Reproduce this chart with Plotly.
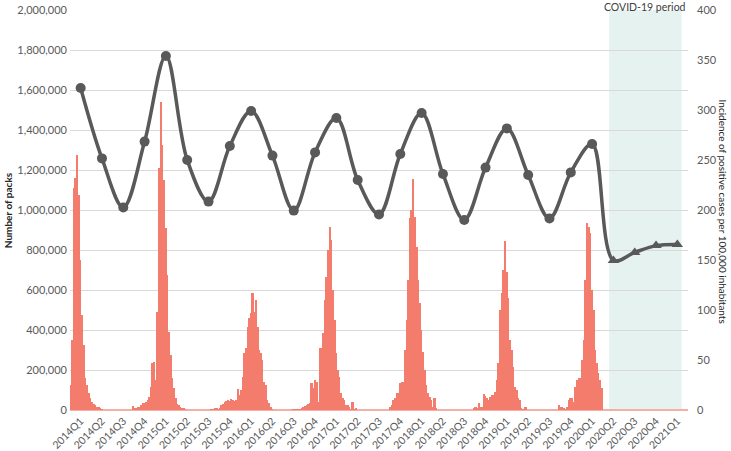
import plotly.graph_objects as go

# quarterly number of packs (left axis)
quarters = ['2014Q1', '2014Q2', '2014Q3', '2014Q4', '2015Q1', '2015Q2', '2015Q3', '2015Q4',
            '2016Q1', '2016Q2', '2016Q3', '2016Q4', '2017Q1', '2017Q2', '2017Q3', '2017Q4',
            '2018Q1', '2018Q2', '2018Q3', '2018Q4', '2019Q1', '2019Q2', '2019Q3', '2019Q4',
            '2020Q1', '2020Q2', '2020Q3', '2020Q4', '2021Q1']
packs = [1610000, 1258000, 1013000, 1342000, 1770000, 1250000, 1042000, 1320000,
         1495000, 1272000, 997000, 1288000, 1460000, 1150000, 978000, 1280000,
         1485000, 1180000, 950000, 1212000, 1408000, 1175000, 958000, 1188000,
         1330000, 748000, 788000, 822000, 828000]
n_pre_covid = 25

# weekly incidence of positive cases per 100,000 inhabitants (right axis)
inc_2014 = [25, 70, 222, 232, 255, 215, 150, 95, 65, 32, 25, 17, 12, 8, 6, 5, 3, 3, 2, 1,
            0, 0, 0, 0, 0, 0, 0, 0, 0, 0, 0, 0, 0, 0, 0, 0, 0, 0,
            4, 2, 2, 3, 3, 5, 7, 7, 8, 10, 13, 23, 47, 48]
inc_2015 = [30, 98, 242, 308, 265, 230, 182, 135, 78, 55, 32, 22, 12, 6, 5, 3, 2, 2, 1,
            0, 0, 0, 0, 0, 0, 0, 0, 0, 0, 0, 0, 0, 0, 0,
            1, 1, 2, 2, 1, 2, 5, 6, 8, 9, 10, 9, 11, 10, 9, 10, 21, 15]
inc_2016 = [20, 33, 57, 62, 83, 92, 97, 117, 98, 110, 83, 60, 57, 50, 28, 25, 10, 7, 3, 1,
            0, 0, 0, 0, 0, 0, 0, 0, 0, 0, 0, 0, 1, 1, 1, 1,
            1, 2, 3, 4, 5, 6, 7, 27, 22, 30, 28, 8, 62, 62, 77, 110]
inc_2017 = [133, 160, 183, 170, 120, 90, 57, 40, 33, 17, 12, 10, 5, 5, 3,
            1, 8, 1, 2,
            0, 0, 0, 0, 0, 0, 0, 0, 0, 0, 0, 0, 0, 0, 0, 0, 0, 0, 0, 0,
            3, 5, 10, 12, 17, 17, 27, 28, 28, 60, 90, 130, 192]
inc_2018 = [200, 231, 193, 163, 130, 107, 80, 58, 40, 25, 17, 13, 10, 3, 12, 2,
            0, 0, 0, 0, 0, 0, 0, 0, 0, 0, 0, 0, 0, 0, 0, 0, 0, 0, 0, 0, 0, 0,
            2, 3, 2, 7, 3, 3, 16, 14, 12, 10, 13, 15, 15, 18]
inc_2019 = [30, 47, 100, 117, 140, 169, 138, 112, 70, 60, 43, 23, 20, 12, 10, 2, 1, 3, 3, 0,
            0, 0, 0, 0, 0, 0, 0, 0, 0, 0, 0, 0, 0, 0, 0, 0, 0, 0,
            5, 3, 3, 2, 1, 3, 10, 12, 12, 8, 23, 30, 32, 32]
inc_2020 = [50, 70, 130, 187, 183, 177, 120, 100, 60, 47, 37, 30, 22]

weekly = inc_2014 + inc_2015 + inc_2016 + inc_2017 + inc_2018 + inc_2019 + inc_2020
weeks = list(range(len(weekly)))
n_weeks_axis = 13 * len(quarters)

FONT = 'Lato'
GREY = '#595959'
SALMON = '#f47c6c'

fig = go.Figure()

# weekly incidence bars (right axis, drawn underneath)
fig.add_trace(go.Bar(
    x=weeks, y=weekly, xaxis='x', yaxis='y',
    marker=dict(color=SALMON, line=dict(width=0)), name='incidence'
))

# quarterly packs line (left axis)
symbols = ['circle'] * n_pre_covid + ['triangle-up'] * (len(quarters) - n_pre_covid)
fig.add_trace(go.Scatter(
    x=quarters, y=packs, xaxis='x2', yaxis='y2', name='packs',
    mode='lines+markers',
    line=dict(color=GREY, width=3.5, shape='spline', smoothing=1),
    marker=dict(color=GREY, size=10, symbol=symbols)
))

# COVID-19 shaded period
fig.add_shape(type='rect', xref='x2', yref='paper', x0=24.8, x1=28.2, y0=0, y1=1,
              fillcolor='#e5f2ef', line=dict(width=0), layer='between')
fig.add_annotation(text='COVID-19 period', xref='x2', yref='paper', x=26.5, y=1,
                   xanchor='center', yanchor='middle', yshift=3, showarrow=False,
                   font=dict(family=FONT, size=10.5, color='#404040'))

# axis titles
fig.add_annotation(text='<b>Number of packs</b>', xref='paper', yref='paper', x=-0.1, y=0.5,
                   xanchor='center', yanchor='middle', textangle=-90, showarrow=False,
                   font=dict(family=FONT, size=10, color='#262626'))
fig.add_annotation(text='Incidence of positive cases per 100,000 inhabitants',
                   xref='paper', yref='paper', x=1.056, y=0.497, xanchor='center',
                   yanchor='middle', textangle=90, showarrow=False,
                   font=dict(family=FONT, size=10, color='#262626'))

fig.update_layout(
    width=731, height=451,
    margin=dict(l=70, r=43, t=10, b=41),
    plot_bgcolor='white', paper_bgcolor='white',
    showlegend=False, bargap=0,
    font=dict(family=FONT, size=11, color=GREY),
    xaxis=dict(range=[-0.5, n_weeks_axis - 0.5], visible=False),
    xaxis2=dict(overlaying='x', side='bottom', range=[-0.5, len(quarters) - 0.5],
                tickangle=-45, showgrid=False, ticklabelstandoff=2, automargin=False,
                tickfont=dict(size=10.5, color=GREY)),
    yaxis=dict(side='right', range=[0, 400], dtick=50, showgrid=False,
               zeroline=True, zerolinecolor='#f2b0a6', zerolinewidth=2,
               ticklabelstandoff=8, automargin=False),
    yaxis2=dict(side='left', overlaying='y', range=[0, 2000000], dtick=200000,
                tickformat=',', gridcolor='#d9d9d9', gridwidth=1, zeroline=False,
                ticklabelstandoff=2, automargin=False),
)

fig.write_html('out.html', config={'displayModeBar': False},
               post_script="document.body.style.margin='0';")
